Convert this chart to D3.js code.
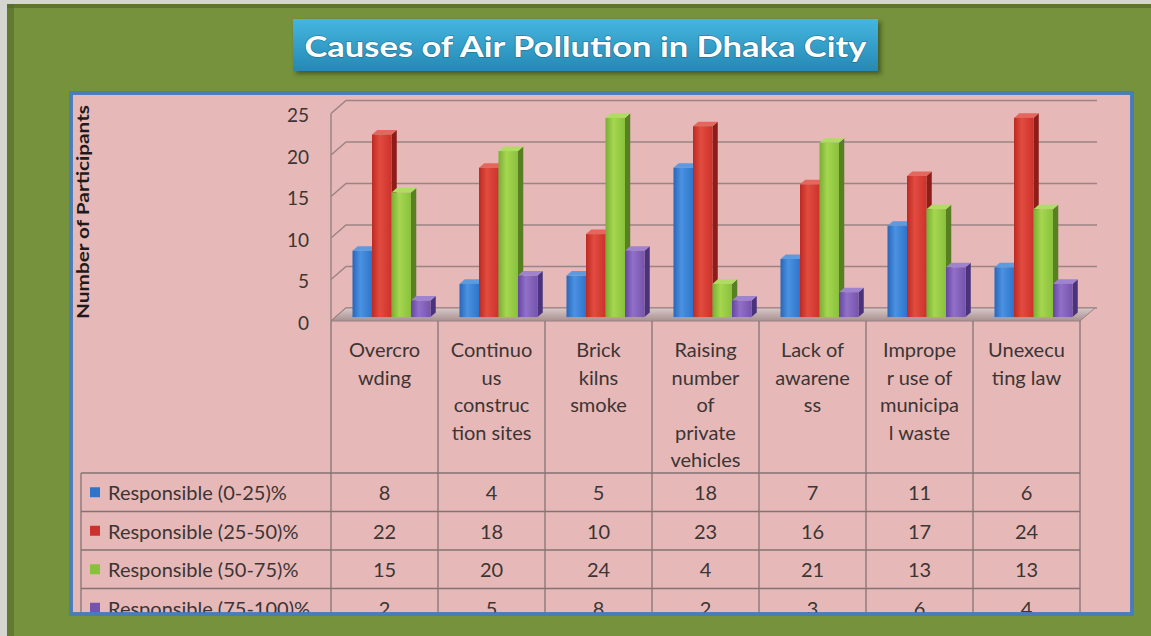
<!doctype html>
<html>
<head>
    <meta charset="utf-8">
    <style>
        body {
            margin: 0;
            background: #76923C;
            font-family: 'Lato', 'Open Sans', sans-serif;
        }

        svg {
            display: block;
        }

        text {
            fill: #3d3434;
        }

        text.title {
            font-size: 29px;
            font-weight: 700;
            fill: #fff;
        }

        text.axis-title {
            font-size: 17px;
            font-weight: 700;
            fill: #1e1a1a;
        }

        text.tick {
            font-size: 19px;
        }

        text.cat, text.legend, text.value {
            font-size: 20px;
        }

        .grid {
            stroke: #9c8484;
            stroke-width: 1.5;
            fill: none;
        }

        .table-line {
            stroke: #857373;
            stroke-width: 1.3;
        }
    </style>
    <script src="https://d3js.org/d3.v7.min.js"></script>
</head>
<body>
<svg width="1151" height="636"></svg>
<script>
    const categories = ['Overcrowding', 'Continuous construction sites', 'Brick kilns smoke',
        'Raising number of private vehicles', 'Lack of awareness', 'Improper use of municipal waste', 'Unexecuting law']
    // the labels wrap like this in the picture
    const categoryLines = [
        ['Overcro', 'wding'],
        ['Continuo', 'us', 'construc', 'tion sites'],
        ['Brick', 'kilns', 'smoke'],
        ['Raising', 'number', 'of', 'private', 'vehicles'],
        ['Lack of', 'awarene', 'ss'],
        ['Imprope', 'r use of', 'municipa', 'l waste'],
        ['Unexecu', 'ting law']
    ]
    const series = ['Responsible (0-25)%', 'Responsible (25-50)%', 'Responsible (50-75)%', 'Responsible (75-100)%']
    const resp0to25 = [8, 4, 5, 18, 7, 11, 6]
    const resp25to50 = [22, 18, 10, 23, 16, 17, 24]
    const resp50to75 = [15, 20, 24, 4, 21, 13, 13]
    const resp75to100 = [2, 5, 8, 2, 3, 6, 4]
    const yTicks = [0, 5, 10, 15, 20, 25]

    const seriesValues = [resp0to25, resp25to50, resp50to75, resp75to100]

    const colors = [
        { dark: '#2866b8', light: '#4b92e2', base: '#2f74c9', side: '#1d4c8c', top: '#5c9be0' },
        { dark: '#bd2a22', light: '#e24c40', base: '#cc322b', side: '#8c1d19', top: '#e4665c' },
        { dark: '#79ad33', light: '#a6d650', base: '#89c13c', side: '#587f22', top: '#b0dc64' },
        { dark: '#6645a0', light: '#9170c8', base: '#7654ad', side: '#4a327c', top: '#a083cf' }
    ]

    const svg = d3.select('svg')
    const defs = svg.append('defs')

    colors.forEach((c, i) => {
        const g = defs.append('linearGradient').attr('id', 'bar' + i)
            .attr('x1', 0).attr('x2', 1).attr('y1', 0).attr('y2', 0)
        g.append('stop').attr('offset', 0).attr('stop-color', c.dark)
        g.append('stop').attr('offset', 0.4).attr('stop-color', c.light)
        g.append('stop').attr('offset', 1).attr('stop-color', c.base)
    })

    const tg = defs.append('linearGradient').attr('id', 'titleGrad')
        .attr('x1', 0).attr('x2', 0).attr('y1', 0).attr('y2', 1)
    tg.append('stop').attr('offset', 0).attr('stop-color', '#44b6e0')
    tg.append('stop').attr('offset', 1).attr('stop-color', '#2689b4')

    const fg = defs.append('linearGradient').attr('id', 'floorGrad')
        .attr('x1', 0).attr('x2', 0).attr('y1', 0).attr('y2', 1)
    fg.append('stop').attr('offset', 0).attr('stop-color', '#d9c9c9')
    fg.append('stop').attr('offset', 1).attr('stop-color', '#a88f8f')

    defs.append('filter').attr('id', 'shadow')
        .attr('x', -0.1).attr('y', -0.2).attr('width', 1.2).attr('height', 1.5)
        .append('feDropShadow')
        .attr('dx', 3).attr('dy', 3).attr('stdDeviation', 2)
        .attr('flood-color', '#2a3812').attr('flood-opacity', 0.6)

    defs.append('clipPath').attr('id', 'plotClip')
        .append('rect').attr('x', 0).attr('y', 0).attr('width', 1151).attr('height', 613)

    // background + the light/dark edge at top-left
    svg.append('rect').attr('width', 1151).attr('height', 636).attr('fill', '#76923C')
    svg.append('rect').attr('x', 7).attr('y', 4).attr('width', 1144).attr('height', 4).attr('fill', '#55692a').attr('opacity', 0.7)
    svg.append('rect').attr('x', 7).attr('y', 4).attr('width', 7).attr('height', 632).attr('fill', '#55692a').attr('opacity', 0.6)
    svg.append('rect').attr('width', 1151).attr('height', 4).attr('fill', '#d4d6cf')
    svg.append('rect').attr('width', 7).attr('height', 636).attr('fill', '#d4d6cf')

    // plot area
    svg.append('rect')
        .attr('x', 71).attr('y', 93).attr('width', 1061).attr('height', 521)
        .attr('fill', '#E6B9B8')
        .attr('stroke', '#4a7cb8').attr('stroke-width', 3.5)

    // title
    svg.append('rect')
        .attr('x', 293).attr('y', 19).attr('width', 585).attr('height', 52)
        .attr('fill', 'url(#titleGrad)')
        .attr('filter', 'url(#shadow)')
    svg.append('text')
        .attr('class', 'title')
        .attr('x', 585.5).attr('y', 57)
        .attr('text-anchor', 'middle')
        .attr('textLength', 562).attr('lengthAdjust', 'spacingAndGlyphs')
        .style('paint-order', 'stroke').style('stroke', 'rgba(20,60,80,0.35)').style('stroke-width', 1.5)
        .text('Causes of Air Pollution in Dhaka City')

    // scales
    const x0 = d3.scaleBand().domain(categories).range([331, 1080])
    const x1 = d3.scaleBand().domain(series).range([17, 95])
    const yF = d3.scaleLinear().domain([0, 25]).range([321, 113.5])
    const DX = 15, DY = -13

    const chart = svg.append('g')

    // walls / gridlines
    chart.append('line')
        .attr('class', 'grid')
        .attr('x1', 331).attr('x2', 331)
        .attr('y1', yF(25)).attr('y2', yF(0))
    chart.selectAll('path.gl')
        .data(yTicks)
        .enter()
        .append('path')
        .attr('class', 'grid')
        .attr('d', v => `M331,${yF(v)}L${331 + DX},${yF(v) + DY}L${1080 + DX + 2},${yF(v) + DY}`)

    // floor
    chart.append('path')
        .attr('d', `M331,${yF(0)}L1080,${yF(0)}L${1080 + DX},${yF(0) + DY}L${331 + DX},${yF(0) + DY}Z`)
        .attr('fill', 'url(#floorGrad)')
        .attr('stroke', '#9a8282').attr('stroke-width', 1)

    // y tick labels
    chart.selectAll('text.tick')
        .data(yTicks)
        .enter()
        .append('text')
        .attr('class', 'tick')
        .attr('x', 309)
        .attr('y', v => yF(v) + 1)
        .attr('text-anchor', 'end')
        .attr('dominant-baseline', 'central')
        .text(v => v)

    svg.append('text')
        .attr('class', 'axis-title')
        .attr('transform', 'translate(82, 212) rotate(-90)')
        .attr('text-anchor', 'middle')
        .attr('dominant-baseline', 'central')
        .attr('textLength', 214).attr('lengthAdjust', 'spacingAndGlyphs')
        .text('Number of Participants')

    // 3d bars
    const front = 0.3, back = 0.65
    const bw = x1.bandwidth()
    const bdx = DX * (back - front), bdy = DY * (back - front)
    const barData = []
    categories.forEach((c, ci) => {
        series.forEach((s, si) => {
            barData.push({ c: c, s: s, si: si, v: seriesValues[si][ci] })
        })
    })

    const bars = chart.selectAll('g.bar')
        .data(barData)
        .enter()
        .append('g')
        .attr('class', 'bar')

    const fx = d => x0(d.c) + x1(d.s) + DX * front
    const fTop = d => yF(d.v) + DY * front
    const fBase = yF(0) + DY * front

    bars.append('path')
        .attr('fill', d => colors[d.si].side)
        .attr('d', d => `M${fx(d) + bw},${fTop(d)}L${fx(d) + bw + bdx},${fTop(d) + bdy}L${fx(d) + bw + bdx},${fBase + bdy}L${fx(d) + bw},${fBase}Z`)
    bars.append('path')
        .attr('fill', d => colors[d.si].top)
        .attr('d', d => `M${fx(d)},${fTop(d)}L${fx(d) + bdx},${fTop(d) + bdy}L${fx(d) + bw + bdx},${fTop(d) + bdy}L${fx(d) + bw},${fTop(d)}Z`)
    bars.append('rect')
        .attr('fill', d => `url(#bar${d.si})`)
        .attr('x', fx)
        .attr('y', fTop)
        .attr('width', bw)
        .attr('height', d => fBase - fTop(d))

    // data table
    const rowY = d3.scaleBand().domain(series).range([473, 627])
    const table = svg.append('g').attr('clip-path', 'url(#plotClip)')

    const bounds = categories.map(c => x0(c)).concat([x0.range()[1]])
    table.selectAll('line.v')
        .data(bounds)
        .enter()
        .append('line')
        .attr('class', 'table-line')
        .attr('x1', d => d).attr('x2', d => d)
        .attr('y1', yF(0)).attr('y2', 620)
    table.append('line')
        .attr('class', 'table-line')
        .attr('x1', 81).attr('x2', 81)
        .attr('y1', rowY(series[0])).attr('y2', 620)
    table.selectAll('line.h')
        .data(series)
        .enter()
        .append('line')
        .attr('class', 'table-line')
        .attr('x1', 81).attr('x2', x0.range()[1])
        .attr('y1', d => rowY(d)).attr('y2', d => rowY(d))

    // category headers
    categoryLines.forEach((lines, ci) => {
        table.selectAll(null)
            .data(lines)
            .enter()
            .append('text')
            .attr('class', 'cat')
            .attr('x', x0(categories[ci]) + x0.bandwidth() / 2)
            .attr('y', (l, i) => 357 + i * 27.5)
            .attr('text-anchor', 'middle')
            .text(l => l)
    })

    // legend column
    table.selectAll('rect.key')
        .data(series)
        .enter()
        .append('rect')
        .attr('x', 90)
        .attr('y', d => rowY(d) + rowY.bandwidth() / 2 - 5)
        .attr('width', 10).attr('height', 10)
        .attr('fill', (d, i) => colors[i].base)
    table.selectAll('text.legend')
        .data(series)
        .enter()
        .append('text')
        .attr('class', 'legend')
        .attr('x', 108)
        .attr('y', d => rowY(d) + rowY.bandwidth() / 2)
        .attr('dominant-baseline', 'central')
        .text(d => d)

    table.selectAll('text.value')
        .data(barData)
        .enter()
        .append('text')
        .attr('class', 'value')
        .attr('x', d => x0(d.c) + x0.bandwidth() / 2)
        .attr('y', d => rowY(d.s) + rowY.bandwidth() / 2)
        .attr('text-anchor', 'middle')
        .attr('dominant-baseline', 'central')
        .text(d => d.v)

    // border redrawn on top so the last row looks cut off
    svg.append('rect')
        .attr('x', 71).attr('y', 93).attr('width', 1061).attr('height', 521)
        .attr('fill', 'none')
        .attr('stroke', '#4a7cb8').attr('stroke-width', 3.5)
</script>
</body>
</html>
